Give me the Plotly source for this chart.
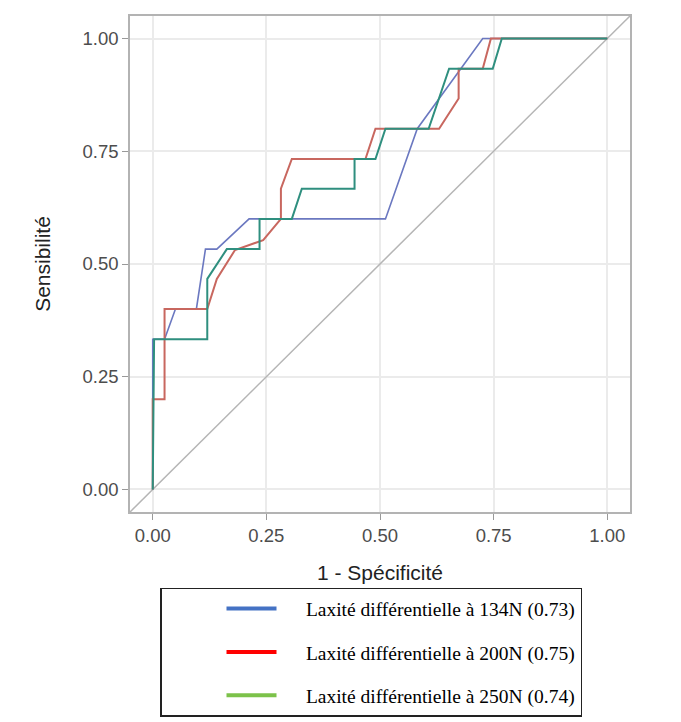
import plotly.graph_objects as go

# ROC curves (1 - specificity, sensitivity)
fpr_134 = [0.0, 0.0, 0.026, 0.05, 0.096, 0.116, 0.141, 0.212, 0.512, 0.582, 0.726, 1.0]
tpr_134 = [0.0, 0.333, 0.333, 0.4, 0.4, 0.533, 0.533, 0.6, 0.6, 0.8, 1.0, 1.0]

fpr_200 = [0.0, 0.0, 0.026, 0.026, 0.12, 0.141, 0.181, 0.243, 0.282, 0.282, 0.306, 0.468,
           0.49, 0.63, 0.673, 0.673, 0.726, 0.744, 1.0]
tpr_200 = [0.0, 0.2, 0.2, 0.4, 0.4, 0.467, 0.531, 0.553, 0.6, 0.667, 0.733, 0.733,
           0.8, 0.8, 0.867, 0.933, 0.933, 1.0, 1.0]

fpr_250 = [0.0, 0.003, 0.12, 0.12, 0.163, 0.235, 0.235, 0.306, 0.328, 0.444, 0.444, 0.49,
           0.512, 0.607, 0.652, 0.748, 0.768, 1.0]
tpr_250 = [0.0, 0.333, 0.333, 0.467, 0.533, 0.533, 0.6, 0.6, 0.667, 0.667, 0.733, 0.733,
           0.8, 0.8, 0.933, 0.933, 1.0, 1.0]

diag = [-0.1, 1.1]

labels = ["Laxité différentielle à 134N (0.73)",
          "Laxité différentielle à 200N (0.75)",
          "Laxité différentielle à 250N (0.74)"]
line_colors = ["#6b78c0", "#c8675f", "#2f8f7f"]
legend_colors = ["#4472c4", "#ff0000", "#7cc24a"]

fig = go.Figure()

fig.add_trace(go.Scatter(x=diag, y=diag, mode="lines",
                         line=dict(color="#b5b5b5", width=1.5), showlegend=False))

curves = [(fpr_134, tpr_134, 1.6), (fpr_200, tpr_200, 2), (fpr_250, tpr_250, 2)]
for (x, y, w), c in zip(curves, line_colors):
    fig.add_trace(go.Scatter(x=x, y=y, mode="lines", line=dict(color=c, width=w),
                             showlegend=False))

# legend entries (the legend in the reference uses its own colours)
for i, (lab, c) in enumerate(zip(labels, legend_colors)):
    fig.add_trace(go.Scatter(x=[None], y=[None], mode="lines", name="\u00a0" * 5 + lab,
                             legendgroup=str(i), line=dict(color=c, width=4)))

axis_style = dict(
    range=[-0.05, 1.05],
    tickvals=[0, 0.25, 0.5, 0.75, 1.0],
    ticktext=["0.00", "0.25", "0.50", "0.75", "1.00"],
    ticks="outside", ticklen=6, tickcolor="#999999",
    tickfont=dict(family="Liberation Sans, Arial", size=18.5, color="#4d4d4d"),
    showgrid=True, gridcolor="#ebebeb", gridwidth=1.5,
    zeroline=False,
    showline=True, linecolor="#b3b3b3", linewidth=1.5, mirror=True,
)

fig.update_xaxes(**axis_style,
                 title=dict(text="1 - Spécificité", standoff=20,
                            font=dict(family="Liberation Sans, Arial", size=21, color="#222222")))
fig.update_yaxes(**axis_style,
                 title=dict(text="Sensibilité", standoff=26,
                            font=dict(family="Liberation Sans, Arial", size=21, color="#222222")))

# the page body adds an 8px offset, margins below compensate for it
fig.update_layout(
    width=681, height=722,
    margin=dict(l=122, r=59, t=6, b=218),
    plot_bgcolor="white", paper_bgcolor="white",
    showlegend=True,
    legend=dict(
        x=0.06, xanchor="left", y=-0.153, yanchor="top",
        bordercolor="#222222", borderwidth=1.5, bgcolor="white",
        font=dict(family="Liberation Serif, Times New Roman", size=19.5, color="black"),
        itemwidth=50, indentation=60, tracegroupgap=15,
    ),
)

fig.write_html("out.html")
